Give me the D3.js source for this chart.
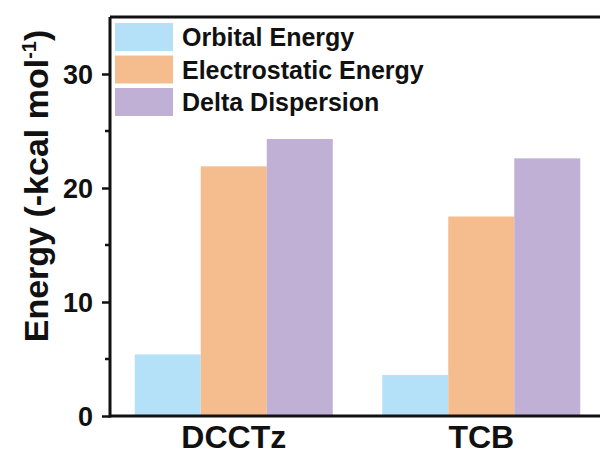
<!DOCTYPE html>
<html>
<head>
<meta charset="utf-8">
<script src="https://cdn.jsdelivr.net/npm/d3@7"></script>
<style>
  body { margin: 0; background: #fff; }
  text { font-family: "Liberation Sans", Arial, sans-serif; font-weight: bold; fill: #111; }
</style>
</head>
<body>
<div id="chart"></div>
<script>
// data
const categories = ["DCCTz", "TCB"];
const seriesNames = ["Orbital Energy", "Electrostatic Energy", "Delta Dispersion"];
const orbital = [5.4, 3.6];
const electrostatic = [21.9, 17.5];
const dispersion = [24.3, 22.6];
const majorTicks = [0, 10, 20, 30];
const minorTicks = [5, 15, 25];

const colors = ["#b5e1f8", "#f5bd8e", "#c0b0d6"];
const seriesValues = [orbital, electrostatic, dispersion];

const W = 600, H = 455;
const margin = {top: 17, right: -10, bottom: 39, left: 110};
const width = W - margin.left - margin.right;
const height = H - margin.top - margin.bottom;

const svg = d3.select("#chart").append("svg")
    .attr("width", W)
    .attr("height", H);

const g = svg.append("g")
    .attr("transform", `translate(${margin.left},${margin.top})`);

// scales
const x0 = d3.scaleBand()
    .domain(categories)
    .range([0, 495])
    .paddingInner(0.2)
    .paddingOuter(0.1);

const x1 = d3.scaleBand()
    .domain(seriesNames)
    .range([0, x0.bandwidth()])
    .padding(0);

const y = d3.scaleLinear()
    .domain([0, 35])
    .range([height, 0]);

// bars
const groups = g.append("g")
    .selectAll("g")
    .data(categories)
    .enter()
    .append("g")
    .attr("transform", d => `translate(${x0(d)},0)`);

groups.selectAll("rect")
    .data((c, ci) => seriesNames.map((s, si) => ({series: s, si: si, value: seriesValues[si][ci]})))
    .enter()
    .append("rect")
    .attr("x", d => x1(d.series))
    .attr("y", d => y(d.value))
    .attr("width", x1.bandwidth())
    .attr("height", d => height - y(d.value))
    .style("fill", d => colors[d.si]);

// frame top line
g.append("line")
    .attr("x1", 0).attr("x2", width)
    .attr("y1", 0).attr("y2", 0)
    .attr("stroke", "#111").attr("stroke-width", 3);

// y axis
const yAxis = d3.axisLeft(y)
    .tickValues(majorTicks)
    .tickSize(8)
    .tickPadding(9)
    .tickFormat(d3.format("d"));

const yG = g.append("g").call(yAxis);
yG.select(".domain").attr("stroke", "#111").attr("stroke-width", 3)
    .attr("d", `M0,${height + 1.5}V0`);
yG.selectAll(".tick line").attr("stroke", "#111").attr("stroke-width", 2.5);
yG.selectAll(".tick text")
    .style("font-size", "27px")
    .style("font-family", "'Liberation Sans', Arial, sans-serif")
    .style("font-weight", "bold")
    .attr("fill", "#111")
    .attr("dy", "0.36em");

g.append("g")
    .selectAll("line")
    .data(minorTicks)
    .enter()
    .append("line")
    .attr("x1", -5).attr("x2", 0)
    .attr("y1", d => y(d)).attr("y2", d => y(d))
    .attr("stroke", "#111").attr("stroke-width", 2.5);

// x axis
const xAxis = d3.axisBottom(x0).tickSize(0).tickPadding(9);
const xG = g.append("g")
    .attr("transform", `translate(0,${height})`)
    .call(xAxis);
xG.select(".domain").attr("stroke", "#111").attr("stroke-width", 3)
    .attr("d", `M0,0H${width}`);
xG.selectAll(".tick text")
    .style("font-size", "32px")
    .style("font-family", "'Liberation Sans', Arial, sans-serif")
    .style("font-weight", "bold")
    .attr("fill", "#111");

// y label
const yl = svg.append("text")
    .attr("transform", "translate(48,186) rotate(-90)")
    .attr("text-anchor", "middle")
    .style("font-size", "34px");
yl.append("tspan").text("Energy (-kcal mol");
yl.append("tspan").attr("dy", -12).style("font-size", "20px").text("-1");
yl.append("tspan").attr("dy", 12).text(")");

// legend
const legend = g.append("g")
    .attr("transform", "translate(5,6)");

const items = legend.selectAll("g")
    .data(seriesNames)
    .enter()
    .append("g")
    .attr("transform", (d, i) => `translate(0,${i * 32.5})`);

items.append("rect")
    .attr("width", 58)
    .attr("height", 28)
    .style("fill", (d, i) => colors[i]);

items.append("text")
    .attr("x", 67)
    .attr("y", 14)
    .attr("dy", "0.36em")
    .style("font-size", "25px")
    .text(d => d);
</script>
</body>
</html>
